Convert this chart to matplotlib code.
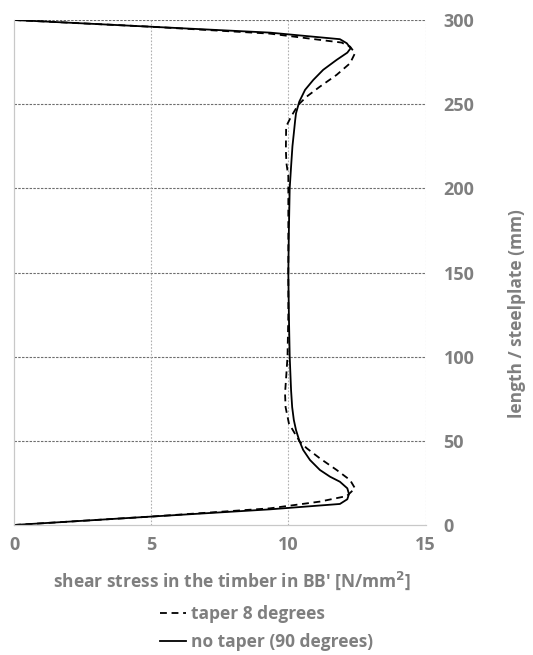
import matplotlib
matplotlib.use("Agg")
import matplotlib.pyplot as plt
from matplotlib.lines import Line2D

plt.rcParams['font.family'] = ['Open Sans', 'DejaVu Sans']

# Shear stress [N/mm2] along the steel plate length [mm]
no_taper_length = [0, 5, 9.3, 12.5, 15.3, 18.4, 21.8, 25.7, 28.7, 32.7, 38.6, 44.6,
                   50.1, 56.4, 62.4, 70, 80, 100, 125, 150, 175, 200, 212.9, 225,
                   232.7, 240.6, 244.6, 251.5, 258.5, 264.4, 270.4, 276.3, 280.6,
                   283.2, 286.2, 288.6, 292.5, 296, 300]
no_taper_stress = [0, 5, 9.33, 11.88, 12.15, 12.21, 12.15, 11.88, 11.52, 11.15, 10.79, 10.54,
                   10.40, 10.28, 10.20, 10.14, 10.10, 10.05, 10.02, 10.0, 10.02, 10.05, 10.10, 10.15,
                   10.20, 10.25, 10.28, 10.40, 10.61, 10.91, 11.27, 11.76, 12.15,
                   12.27, 12.13, 11.88, 9.33, 5, 0]

taper_length = [0, 5, 9.9, 13.9, 17.2, 21.8, 26.7, 32.7, 39.6, 45.6, 49.5, 54, 60.4,
                70, 78.2, 90, 100, 125, 150, 175, 207, 215, 222.8, 236.7, 242.6,
                249.6, 254.5, 260.4, 267.4, 274.3, 280.3, 284.2, 286.6, 288.2, 291.9,
                296, 300]
taper_stress = [0, 5, 9.33, 11.15, 12.13, 12.43, 12.25, 11.76, 11.15, 10.67, 10.42, 10.25, 10.02,
                9.90, 9.88, 9.93, 9.97, 10.0, 10.0, 10.0, 10.0, 9.93, 9.91, 9.92, 10.10,
                10.36, 10.67, 11.15, 11.76, 12.25, 12.43, 12.25, 11.94, 11.15, 9.33,
                5, 0]

x_ticks = [0, 5, 10, 15]
y_ticks = [0, 50, 100, 150, 200, 250, 300]

TEXT = '#7f7f7f'
FS = 12.5
TICK_FS = 13

fig = plt.figure(figsize=(5.33, 6.55), dpi=100)
ax = fig.add_axes([14 / 533, 1 - 525 / 655, (425.5 - 14) / 533, (525 - 20) / 655])

ax.plot(taper_stress, taper_length, color='black', lw=1.3,
        linestyle=(0, (3.8, 2.6)), label='taper 8 degrees')
ax.plot(no_taper_stress, no_taper_length, color='black', lw=1.3,
        label='no taper (90 degrees)')

ax.set_xlim(0, 15)
ax.set_ylim(0, 300)
ax.set_xticks(x_ticks)
ax.set_yticks(y_ticks)

# gridlines: darker dashed horizontals, lighter dotted verticals
for yv in y_ticks[1:]:
    ax.axhline(yv, color='#6e6e6e', lw=0.8, linestyle=(0, (2.2, 1.2)), zorder=0)
for xv in x_ticks[1:]:
    ax.axvline(xv, color='#b0b0b0', lw=0.8, linestyle=(0, (1.5, 1.5)), zorder=0)

for side in ('top', 'right'):
    ax.spines[side].set_visible(False)
ax.spines['left'].set_color('#c8c8c8')
ax.spines['bottom'].set_color('#c8c8c8')
ax.spines['left'].set_linewidth(0.9)
ax.spines['bottom'].set_linewidth(0.9)

ax.yaxis.tick_right()
ax.tick_params(axis='y', length=0, pad=13, labelsize=TICK_FS, labelcolor=TEXT)
ax.tick_params(axis='x', length=0, pad=8, labelsize=TICK_FS, labelcolor=TEXT)
for lab in ax.get_xticklabels() + ax.get_yticklabels():
    lab.set_fontweight('bold')

fig.text(232 / 533, 1 - 581 / 655, "shear stress in the timber in BB' [N/mm$^\\mathbf{2}$]",
         ha='center', va='center', fontsize=FS, fontweight='bold', color=TEXT)
fig.text(517 / 533, 1 - 314 / 655, 'length / steelplate (mm)', rotation=90,
         ha='center', va='center', fontsize=FS, fontweight='bold', color=TEXT)

handles = [Line2D([], [], color='black', lw=1.3, linestyle=(0, (3.8, 2.6))),
           Line2D([], [], color='black', lw=1.3)]
leg = fig.legend(handles, ['taper 8 degrees', 'no taper (90 degrees)'],
                 loc='upper left', bbox_to_anchor=(160 / 533, 1 - 605 / 655),
                 frameon=False, handlelength=1.5, handletextpad=0.3,
                 labelspacing=0.6, borderaxespad=0, borderpad=0,
                 prop={'size': FS, 'weight': 'bold'})
for t in leg.get_texts():
    t.set_color(TEXT)

fig.savefig('out.png', dpi=100)
